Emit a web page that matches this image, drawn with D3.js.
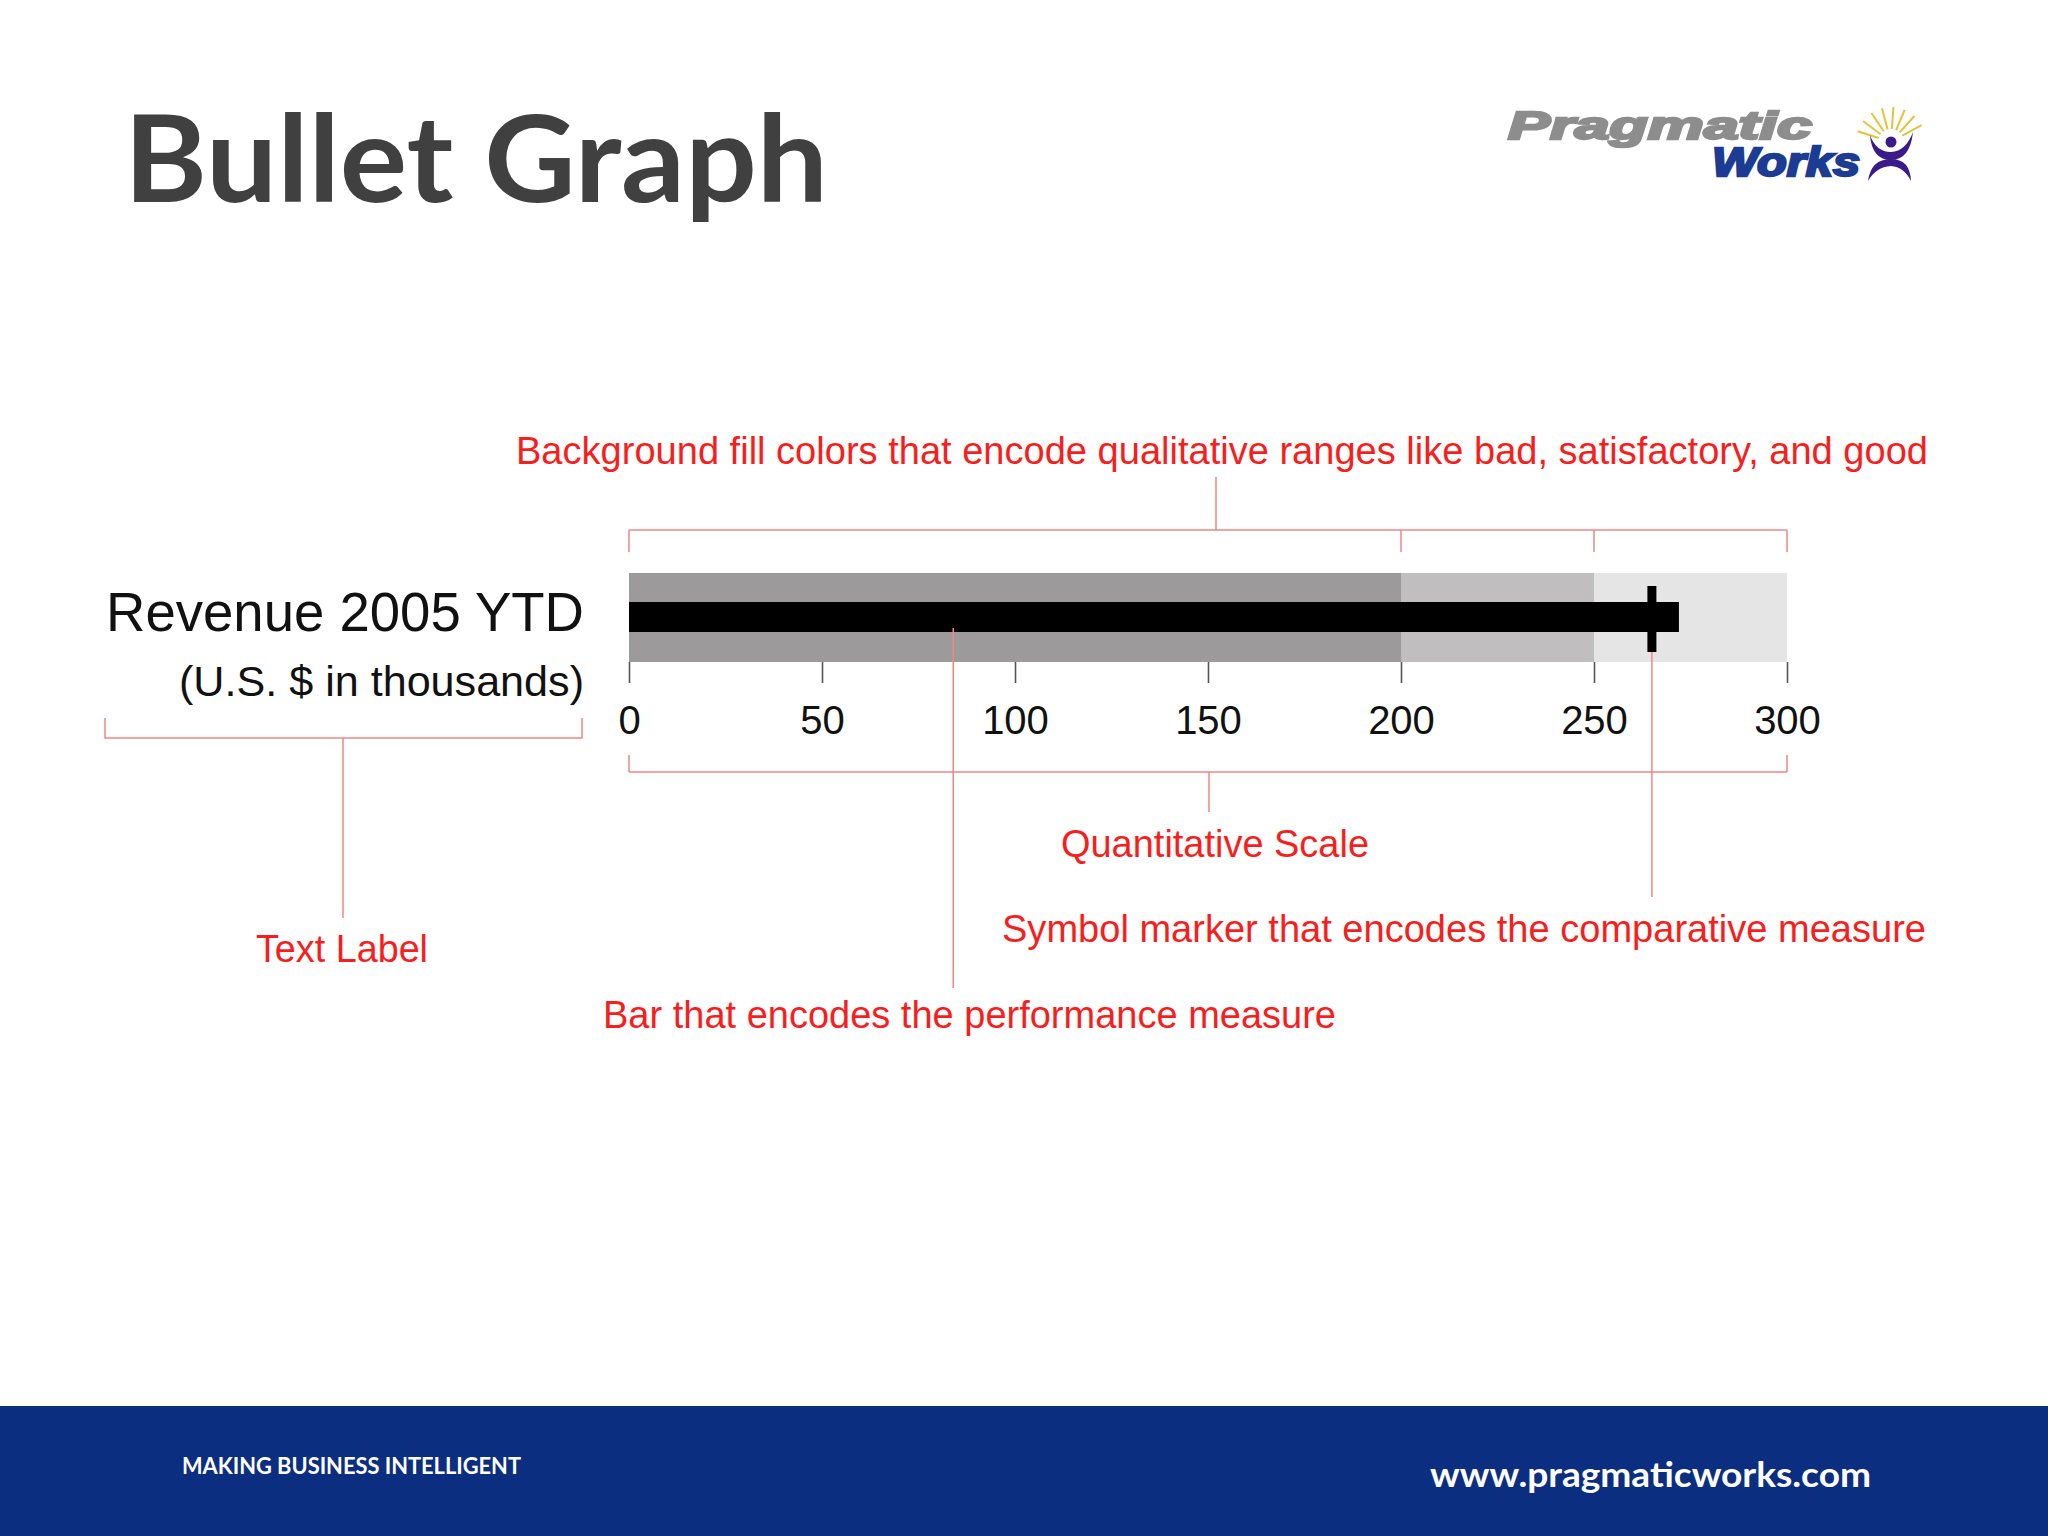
<!DOCTYPE html>
<html>
<head>
<meta charset="utf-8">
<script src="https://cdn.jsdelivr.net/npm/d3@7"></script>
<style>
  html, body { margin: 0; padding: 0; background: #ffffff; }
  svg { display: block; }
</style>
</head>
<body>
<svg id="chart" width="2048" height="1536"></svg>
<script>
// ---- data ----
const title = "Bullet Graph";
const measureLabel = "Revenue 2005 YTD";
const measureSubLabel = "(U.S. $ in thousands)";
const rangeValues = [300, 250, 200];          // qualitative ranges (good, satisfactory, bad)
const rangeColors = ["#e6e5e6", "#c0bebf", "#9c9a9b"];
const performanceValue = 272;                 // bar
const comparativeValue = 265;                 // marker
const scaleDomain = [0, 300];
const tickValues = [0, 50, 100, 150, 200, 250, 300];
const perfPointerValue = 84;                  // where the annotation line touches the bar
const annotations = {
  ranges: "Background fill colors that encode qualitative ranges like bad, satisfactory, and good",
  scale: "Quantitative Scale",
  marker: "Symbol marker that encodes the comparative measure",
  bar: "Bar that encodes the performance measure",
  label: "Text Label"
};
const footerLeft = "MAKING BUSINESS INTELLIGENT";
const footerRight = "www.pragmaticworks.com";

// ---- layout ----
const svg = d3.select("#chart");
const W = 2048, H = 1536;
const red = "#f71e1e";
const lineRed = "#f28686";

const x = d3.scaleLinear().domain(scaleDomain).range([629, 1787]);
const bandTop = 573, bandBottom = 662;
const barTop = 602, barBottom = 632;
const markerTop = 586, markerBottom = 652;

// background
svg.append("rect").attr("width", W).attr("height", H).attr("fill", "#ffffff");

// title
svg.append("text")
  .attr("x", 124).attr("y", 202)
  .attr("font-family", "Lato, 'Open Sans', sans-serif")
  .attr("font-weight", 700)
  .attr("font-size", 121)
  .attr("fill", "#404040")
  .attr("textLength", 704)
  .attr("lengthAdjust", "spacingAndGlyphs")
  .text(title);

// ---- logo ----
const logo = svg.append("g");
logo.append("text")
  .attr("x", 1508).attr("y", 139)
  .attr("font-family", "'Liberation Sans', Arial, sans-serif")
  .attr("font-weight", 700).attr("font-style", "italic")
  .attr("font-size", 39)
  .attr("fill", "#8d8d8d").attr("stroke", "#8d8d8d").attr("stroke-width", 2.4)
  .attr("textLength", 304).attr("lengthAdjust", "spacingAndGlyphs")
  .text("Pragmatic");
logo.append("text")
  .attr("x", 1712).attr("y", 176)
  .attr("font-family", "'Liberation Sans', Arial, sans-serif")
  .attr("font-weight", 700).attr("font-style", "italic")
  .attr("font-size", 40)
  .attr("fill", "#1b3c92").attr("stroke", "#1b3c92").attr("stroke-width", 2.4)
  .attr("textLength", 148).attr("lengthAdjust", "spacingAndGlyphs")
  .text("Works");
// icon rays
const cx = 1891, cy = 142;
const rayAngles = [-162, -143, -124, -105, -86, -67, -48, -29];
logo.selectAll("line.ray").data(rayAngles).join("line")
  .attr("class", "ray")
  .attr("x1", a => cx + 13 * Math.cos(a * Math.PI / 180))
  .attr("y1", a => cy + 13 * Math.sin(a * Math.PI / 180))
  .attr("x2", a => cx + 35 * Math.cos(a * Math.PI / 180))
  .attr("y2", a => cy + 35 * Math.sin(a * Math.PI / 180))
  .attr("stroke", "#e3c23c").attr("stroke-width", 2);
// head
logo.append("circle").attr("cx", cx).attr("cy", cy).attr("r", 5.5).attr("fill", "#3b1a8a");
// arms (bowl)
logo.append("path")
  .attr("d", "M1870,135 Q1872,160 1891,160 Q1910,160 1913,132 Q1906,151 1891,152 Q1876,152 1870,135 Z")
  .attr("fill", "#3b1a8a");
// legs (inverted bowl)
logo.append("path")
  .attr("d", "M1868,181 Q1871,159 1891,159 Q1910,159 1911,181 Q1904,167 1891,166 Q1876,167 1868,181 Z")
  .attr("fill", "#3b1a8a");

// ---- text label ----
svg.append("text")
  .attr("x", 584).attr("y", 631)
  .attr("text-anchor", "end")
  .attr("font-family", "'Liberation Sans', Arial, sans-serif")
  .attr("font-size", 55).attr("fill", "#111")
  .attr("textLength", 478).attr("lengthAdjust", "spacingAndGlyphs")
  .text(measureLabel);
svg.append("text")
  .attr("x", 584).attr("y", 696)
  .attr("text-anchor", "end")
  .attr("font-family", "'Liberation Sans', Arial, sans-serif")
  .attr("font-size", 43).attr("fill", "#111")
  .attr("textLength", 405).attr("lengthAdjust", "spacingAndGlyphs")
  .text(measureSubLabel);

// ---- bullet ----
const g = svg.append("g");
g.selectAll("rect.range").data(rangeValues).join("rect")
  .attr("class", "range")
  .attr("x", x(0)).attr("y", bandTop)
  .attr("width", d => x(d) - x(0))
  .attr("height", bandBottom - bandTop)
  .attr("fill", (d, i) => rangeColors[i]);
g.append("rect")
  .attr("x", x(0)).attr("y", barTop)
  .attr("width", x(performanceValue) - x(0))
  .attr("height", barBottom - barTop)
  .attr("fill", "#000");
g.append("rect")
  .attr("x", x(comparativeValue) - 4.5).attr("y", markerTop)
  .attr("width", 9).attr("height", markerBottom - markerTop)
  .attr("fill", "#000");

// axis
const axis = d3.axisBottom(x).tickValues(tickValues).tickSize(21).tickSizeOuter(0).tickPadding(23);
const ax = svg.append("g").attr("transform", `translate(0,${bandBottom})`).call(axis);
ax.select(".domain").remove();
ax.selectAll(".tick line").attr("stroke", "#555").attr("stroke-width", 1.6);
ax.selectAll(".tick text")
  .attr("font-family", "'Liberation Sans', Arial, sans-serif")
  .attr("font-size", 40).attr("fill", "#111")
  .attr("dx", 0);

// ---- annotations ----
const ann = svg.append("g").attr("stroke", lineRed).attr("stroke-width", 1.5).attr("fill", "none");
// top bracket over ranges
const topY = 530;
ann.append("line").attr("x1", x(0)).attr("x2", x(scaleDomain[1])).attr("y1", topY).attr("y2", topY);
ann.selectAll("line.rtick").data([0].concat(rangeValues)).join("line")
  .attr("class", "rtick")
  .attr("x1", d => x(d)).attr("x2", d => x(d)).attr("y1", topY).attr("y2", topY + 22);
ann.append("line").attr("x1", 1216).attr("x2", 1216).attr("y1", 477).attr("y2", topY);
// bottom bracket under scale
const botY = 772;
ann.append("line").attr("x1", x(0)).attr("x2", x(scaleDomain[1])).attr("y1", botY).attr("y2", botY);
ann.selectAll("line.stick").data(scaleDomain).join("line")
  .attr("class", "stick")
  .attr("x1", d => x(d)).attr("x2", d => x(d)).attr("y1", botY - 17).attr("y2", botY);
ann.append("line").attr("x1", 1209).attr("x2", 1209).attr("y1", botY).attr("y2", 812);
// label bracket
const lblY = 738;
ann.append("path").attr("d", `M105,${lblY - 20} V${lblY} H582 V${lblY - 20}`);
ann.append("line").attr("x1", 343).attr("x2", 343).attr("y1", lblY).attr("y2", 918);
// pointer lines
ann.append("line").attr("x1", x(perfPointerValue)).attr("x2", x(perfPointerValue)).attr("y1", 628).attr("y2", 988);
ann.append("line").attr("x1", x(comparativeValue)).attr("x2", x(comparativeValue)).attr("y1", markerBottom).attr("y2", 897);

const annText = svg.append("g")
  .attr("font-family", "'Liberation Sans', Arial, sans-serif")
  .attr("font-size", 38).attr("fill", red);
const annItems = [
  { text: annotations.ranges, x: 516, y: 464, len: 1412 },
  { text: annotations.scale, x: 1061, y: 857, len: 308 },
  { text: annotations.marker, x: 1002, y: 942, len: 924 },
  { text: annotations.bar, x: 603, y: 1028, len: 733 },
  { text: annotations.label, x: 256, y: 962, len: 172 }
];
annText.selectAll("text").data(annItems).join("text")
  .attr("x", d => d.x).attr("y", d => d.y)
  .attr("textLength", d => d.len).attr("lengthAdjust", "spacingAndGlyphs")
  .text(d => d.text);

// ---- footer ----
svg.append("rect").attr("x", 0).attr("y", 1406).attr("width", W).attr("height", H - 1406).attr("fill", "#0c2e80");
svg.append("text")
  .attr("x", 182).attr("y", 1474)
  .attr("font-family", "Lato, 'Open Sans', sans-serif")
  .attr("font-weight", 700).attr("font-size", 22).attr("fill", "#ffffff")
  .attr("textLength", 339).attr("lengthAdjust", "spacingAndGlyphs")
  .text(footerLeft);
svg.append("text")
  .attr("x", 1430).attr("y", 1487)
  .attr("font-family", "Lato, 'Open Sans', sans-serif")
  .attr("font-weight", 700).attr("font-size", 35).attr("fill", "#ffffff")
  .attr("textLength", 441).attr("lengthAdjust", "spacingAndGlyphs")
  .text(footerRight);
</script>
</body>
</html>
